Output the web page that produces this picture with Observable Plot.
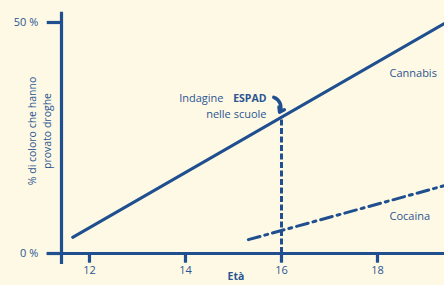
<!DOCTYPE html>
<html>
<head>
<meta charset="utf-8">
<script src="https://cdn.jsdelivr.net/npm/d3@7"></script>
<script src="https://cdn.jsdelivr.net/npm/@observablehq/plot@0.6"></script>
<style>
  html, body { margin: 0; padding: 0; background: #fdf9e5; }
  #chart svg { display: block; }
</style>
</head>
<body>
<div id="chart"></div>
<script>
// Data
const cannabisAges = [11.65, 19.4];
const cannabisPct = [3.5, 49.8];
const cocaineAges = [15.31, 19.4];
const cocainePct = [3.0, 14.7];
const surveyAge = 16;
const surveyPct = 29.5;
const xTicks = [12, 14, 16, 18];
const yTicks = [0, 50];
const yTickLabels = ["0 %", "50 %"];

const blue = "#1f4f8f";
const textBlue = "#2b5592";
const font = "Open Sans, sans-serif";

const cannabis = cannabisAges.map((a, i) => ({age: a, pct: cannabisPct[i]}));
const cocaine = cocaineAges.map((a, i) => ({age: a, pct: cocainePct[i]}));
const yt = yTicks.map((v, i) => ({v, label: yTickLabels[i]}));

const chart = Plot.plot({
  width: 444,
  height: 285,
  marginLeft: 61,
  marginRight: 0,
  marginTop: 22,
  marginBottom: 32,
  style: {background: "#fdf9e5", fontFamily: font},
  x: {domain: [11.417, 19.396], axis: null},
  y: {domain: [0, 50], axis: null},
  marks: [
    // x axis line
    Plot.ruleY([0], {x1: 11.12, x2: 19.396, stroke: blue, strokeWidth: 3.2}),
    // y axis line
    Plot.ruleX([11.417], {y1: -2.4, y2: 52.2, stroke: blue, strokeWidth: 3.2}),
    // y ticks
    Plot.ruleY(yt, {y: "v", x1: 11.12, x2: 11.417, stroke: blue, strokeWidth: 3.2}),
    Plot.text(yt, {y: "v", x: 11.12, text: "label", textAnchor: "end", dx: -9, fill: textBlue, fontSize: 11, letterSpacing: "-0.3px", wordSpacing: "2px"}),
    // x ticks
    Plot.ruleX(xTicks, {y1: 0, y2: -2.1, stroke: blue, strokeWidth: 3.2}),
    Plot.text(xTicks, {x: d => d, y: 0, text: d => String(d), dy: 17, fill: textBlue, fontSize: 11}),
    Plot.text(["Età"], {frameAnchor: "bottom", x: 15.05, dy: 26, fill: textBlue, fontSize: 10.5, fontWeight: "bold"}),
    // y title
    Plot.text(["% di coloro che hanno\nprovato droghe"], {frameAnchor: "left", textAnchor: "middle", dx: -23, dy: -7, rotate: -90, lineHeight: 1.5, fill: textBlue, fontSize: 10.5}),
    // survey dashed line
    Plot.ruleX([surveyAge], {y1: 0, y2: surveyPct, stroke: blue, strokeWidth: 3, strokeDasharray: "6,2.5"}),
    // lines
    Plot.line(cannabis, {x: "age", y: "pct", stroke: blue, strokeWidth: 3}),
    Plot.line(cocaine, {x: "age", y: "pct", stroke: blue, strokeWidth: 3, strokeDasharray: "12,5,3,5"}),
    // arrow
    Plot.arrow([surveyAge], {x1: 15.84, y1: 33.8, x2: 15.96, y2: 30.6, bend: 50, stroke: blue, strokeWidth: 3.5, headLength: 8, headAngle: 70}),
    // annotations
    Plot.text(["ESPAD"], {x: surveyAge, y: surveyPct, dx: -15, dy: -18.5, textAnchor: "end", fill: textBlue, fontSize: 10.5, fontWeight: "bold"}),
    Plot.text(["Indagine"], {x: surveyAge, y: surveyPct, dx: -58, dy: -18.5, textAnchor: "end", fill: textBlue, fontSize: 11}),
    Plot.text(["nelle scuole"], {x: surveyAge, y: surveyPct, dx: -15, dy: -3, textAnchor: "end", fill: textBlue, fontSize: 11}),
    Plot.text(["Cannabis"], {x: 18.25, y: 39, textAnchor: "start", fill: textBlue, fontSize: 11}),
    Plot.text(["Cocaina"], {x: 18.25, y: 8, textAnchor: "start", fill: textBlue, fontSize: 11})
  ]
});
document.getElementById("chart").appendChild(chart);
</script>
</body>
</html>
